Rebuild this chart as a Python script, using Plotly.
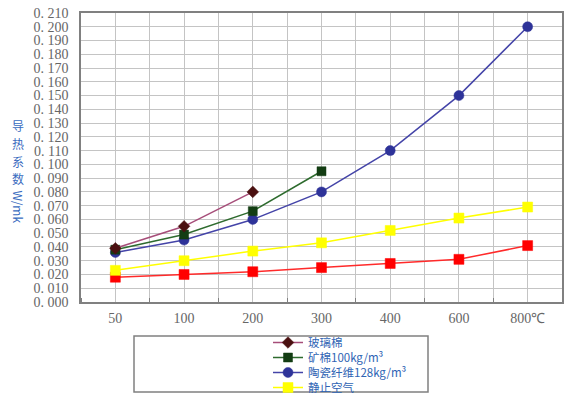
import plotly.graph_objects as go

# ---------------- data ----------------
categories = ["50", "100", "200", "300", "400", "600", "800℃"]

glass_wool = [0.039, 0.055, 0.080]                                   # 玻璃棉
mineral_wool = [0.038, 0.049, 0.066, 0.095]                          # 矿棉100kg/m³
ceramic_fiber = [0.036, 0.045, 0.060, 0.080, 0.110, 0.150, 0.200]    # 陶瓷纤维128kg/m³
still_air = [0.023, 0.030, 0.037, 0.043, 0.052, 0.061, 0.069]        # 静止空气
red_series = [0.018, 0.020, 0.022, 0.025, 0.028, 0.031, 0.041]

series_names = ["玻璃棉", "矿棉100kg/m³", "陶瓷纤维128kg/m³", "静止空气", ""]

y_tick_values = [0.000, 0.010, 0.020, 0.030, 0.040, 0.050, 0.060, 0.070, 0.080,
                 0.090, 0.100, 0.110, 0.120, 0.130, 0.140, 0.150, 0.160, 0.170,
                 0.180, 0.190, 0.200, 0.210]
y_tick_labels = ["0. 000", "0. 010", "0. 020", "0. 030", "0. 040", "0. 050",
                 "0. 060", "0. 070", "0. 080", "0. 090", "0. 100", "0. 110",
                 "0. 120", "0. 130", "0. 140", "0. 150", "0. 160", "0. 170",
                 "0. 180", "0. 190", "0. 200", "0. 210"]

y_title_cjk = ["导", "热", "系", "数"]
y_title_unit = "W/mk"

# ---------------- figure ----------------
W, H = 572, 399
ML, MR, MT, MB = 81, 10, 13, 97
plot_w = W - ML - MR
plot_h = H - MT - MB

x_idx = list(range(len(categories)))

fig = go.Figure()

styles = [
    dict(line=dict(color="#a64d79", width=1.5),
         marker=dict(symbol="diamond", size=9, color="#4a1010",
                     line=dict(color="#4a1010", width=0.5)), legend="legend"),
    dict(line=dict(color="#2e6b2e", width=1.5),
         marker=dict(symbol="square", size=9, color="#133d13",
                     line=dict(color="#133d13", width=0.5)), legend="legend2"),
    dict(line=dict(color="#4444a8", width=1.5),
         marker=dict(symbol="circle", size=10, color="#2e3399",
                     line=dict(color="#2e3399", width=0.5)), legend="legend3"),
    dict(line=dict(color="#ffff00", width=1.5),
         marker=dict(symbol="square", size=10, color="#ffff00",
                     line=dict(color="#ffff00", width=0.5)), legend="legend4"),
    dict(line=dict(color="#ff2a2a", width=1.5),
         marker=dict(symbol="square", size=10, color="#ff0000",
                     line=dict(color="#ff0000", width=0.5)), legend="legend"),
]

all_series = [glass_wool, mineral_wool, ceramic_fiber, still_air, red_series]

draw_order = [4, 3, 2, 1, 0]
for i in draw_order:
    vals = all_series[i]
    st = styles[i]
    fig.add_trace(go.Scatter(
        x=x_idx[:len(vals)], y=vals, mode="lines+markers",
        name=series_names[i], line=st["line"], marker=st["marker"],
        legend=st["legend"], showlegend=(i != 4),
        hoverinfo="x+y",
    ))

legend_font = dict(family="Noto Sans CJK SC, sans-serif", size=11.5, color="#2f64b4")
row_centers = [342.5, 357.5, 372.5, 387.5]
legend_x = 268 / W
for k, name in enumerate(["legend", "legend2", "legend3", "legend4"]):
    fig.layout[name] = dict(
        xref="container", yref="container",
        x=legend_x, y=1 - row_centers[k] / H,
        xanchor="left", yanchor="middle",
        bgcolor="rgba(0,0,0,0)", borderwidth=0, font=legend_font,
    )

grid_col = "#c4c4c4"
fig.update_layout(
    width=W, height=H,
    margin=dict(l=ML, r=MR, t=MT, b=MB, pad=0, autoexpand=False),
    paper_bgcolor="white", plot_bgcolor="white",
    xaxis=dict(
        range=[-0.5, len(categories) - 0.5],
        tickmode="array", tickvals=x_idx, ticktext=categories,
        showgrid=True, gridcolor=grid_col, gridwidth=1,
        ticks="", ticklabelstandoff=2, tickangle=0, automargin=False,
        tickfont=dict(family="Liberation Serif, serif", size=14, color="#666666"),
        showline=True, linecolor="#808080", linewidth=1.5, mirror=True,
        zeroline=False,
        minor=dict(tickvals=[v - 0.5 for v in x_idx] + [x_idx[-1] + 0.5],
                   showgrid=True, gridcolor=grid_col, gridwidth=1,
                   ticks="inside", ticklen=4, tickcolor="#808080"),
    ),
    yaxis=dict(
        range=[0, 0.21],
        tickmode="array", tickvals=y_tick_values, ticktext=y_tick_labels,
        showgrid=True, gridcolor=grid_col, gridwidth=1,
        ticks="", ticklabelstandoff=8, automargin=False,
        tickfont=dict(family="Liberation Serif, serif", size=14, color="#666666"),
        showline=True, linecolor="#808080", linewidth=1.5, mirror=True,
        zeroline=False,
    ),
)

def px_to_paper_x(px):
    return (px - ML) / plot_w

def px_to_paper_y(py):
    return (H - MB - py) / plot_h

# legend frame (as in the original chart)
fig.add_shape(type="rect", xref="paper", yref="paper",
              x0=px_to_paper_x(134), x1=px_to_paper_x(428),
              y0=px_to_paper_y(392), y1=px_to_paper_y(336),
              line=dict(color="#808080", width=1.5), fillcolor="rgba(0,0,0,0)",
              layer="below")

# vertical y-axis title: CJK upright (stacked), unit rotated
title_font = dict(family="Noto Sans CJK SC, sans-serif", size=12, color="#3a6cc0")
for j, ch in enumerate(y_title_cjk):
    fig.add_annotation(text=ch, xref="paper", yref="paper",
                       x=px_to_paper_x(18), y=px_to_paper_y(125 + 18 * j),
                       xanchor="center", yanchor="middle", showarrow=False,
                       borderpad=0, font=title_font)
fig.add_annotation(text=y_title_unit, xref="paper", yref="paper",
                   x=px_to_paper_x(18), y=px_to_paper_y(189),
                   xanchor="center", yanchor="top", showarrow=False,
                   borderpad=0, textangle=90, font=title_font)

fig.write_html("out.html", config={"displayModeBar": False},
               post_script="document.body.style.margin='0';")
